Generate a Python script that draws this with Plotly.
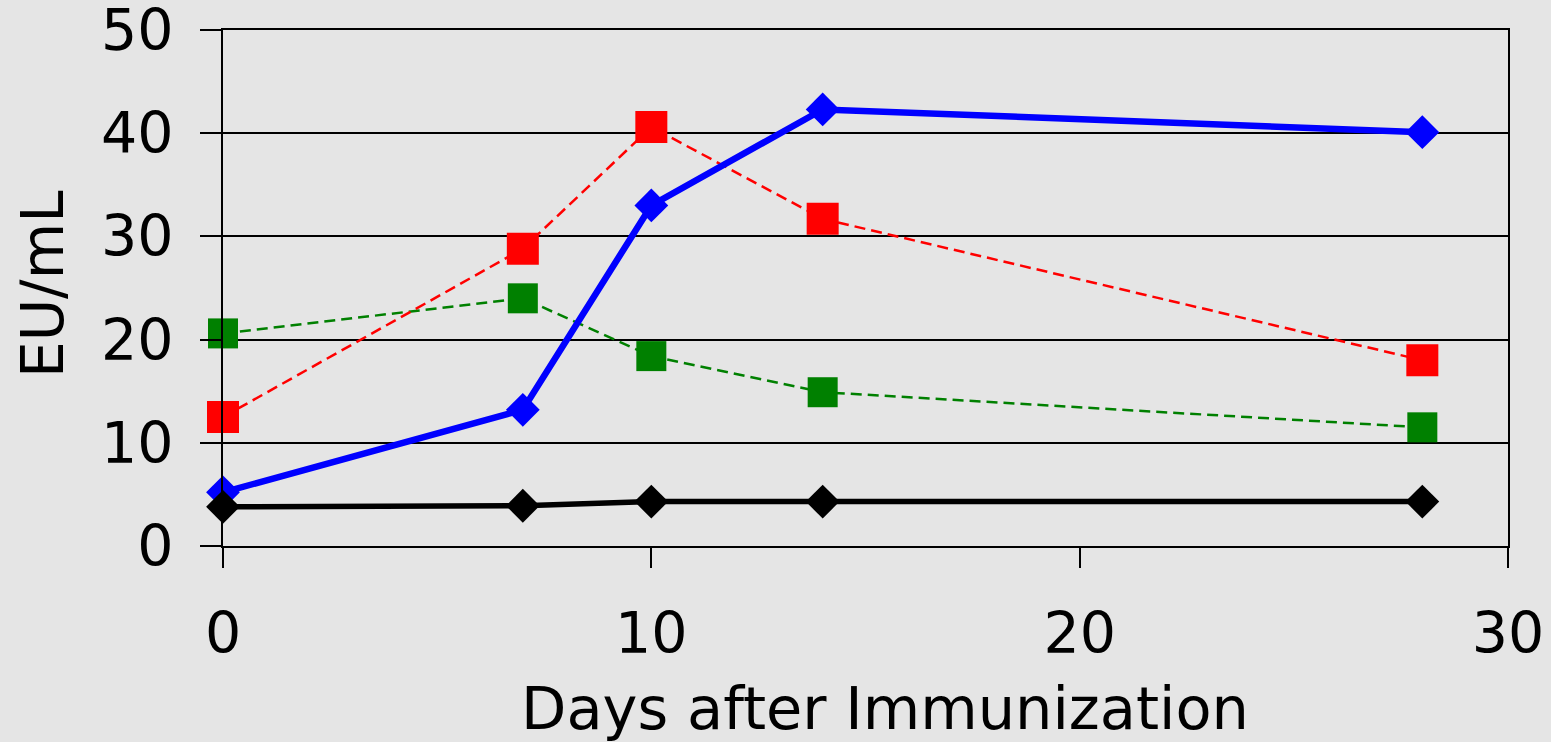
import plotly.graph_objects as go

days = [0, 7, 10, 14, 28]
blue_vals = [5.2, 13.2, 33.0, 42.3, 40.1]
red_vals = [12.5, 28.8, 40.6, 31.7, 18.0]
green_vals = [20.6, 24.0, 18.4, 14.9, 11.5]
black_vals = [3.8, 3.9, 4.3, 4.3, 4.3]

x_ticks = [0, 10, 20, 30]
y_ticks = [0, 10, 20, 30, 40, 50]
x_title = "Days after Immunization"
y_title = "EU/mL"

FONT = "DejaVu Sans"
BG = "#e5e5e5"

fig = go.Figure()

fig.add_trace(go.Scatter(
    x=days, y=green_vals, mode="lines+markers", cliponaxis=False,
    line=dict(color="#008000", width=2.5, dash="11px,6px"),
    marker=dict(symbol="square", size=30, color="#008000"),
))
fig.add_trace(go.Scatter(
    x=days, y=red_vals, mode="lines+markers", cliponaxis=False,
    line=dict(color="#ff0000", width=2.5, dash="11px,6px"),
    marker=dict(symbol="square", size=32, color="#ff0000"),
))
fig.add_trace(go.Scatter(
    x=days, y=blue_vals, mode="lines+markers", cliponaxis=False,
    line=dict(color="#0000ff", width=6.5),
    marker=dict(symbol="diamond", size=26, color="#0000ff"),
))
fig.add_trace(go.Scatter(
    x=days, y=black_vals, mode="lines+markers", cliponaxis=False,
    line=dict(color="#000000", width=5.5),
    marker=dict(symbol="diamond", size=26, color="#000000"),
))

fig.update_layout(
    width=1551, height=742,
    margin=dict(l=223, r=43, t=30, b=196),
    paper_bgcolor=BG, plot_bgcolor=BG,
    showlegend=False,
    font=dict(family=FONT, size=57, color="black"),
    annotations=[
        dict(text=x_title, xref="paper", yref="paper",
             x=(885 - 223) / 1285, y=(546 - 708) / 516,
             xanchor="center", yanchor="middle", showarrow=False,
             font=dict(family=FONT, size=59, color="black")),
        dict(text=y_title, xref="paper", yref="paper",
             x=(43 - 223) / 1285, y=(546 - 285) / 516,
             xanchor="center", yanchor="middle", showarrow=False, textangle=-90,
             font=dict(family=FONT, size=58, color="black")),
    ],
)

fig.update_xaxes(
    range=[0, 30], tickvals=x_ticks, ticktext=[str(v) for v in x_ticks],
    showgrid=False, zeroline=False, automargin=False,
    showline=True, linecolor="black", linewidth=2, mirror=True,
    ticks="outside", ticklen=20, tickwidth=2, tickcolor="black",
    ticklabelstandoff=17, ticklabeloverflow="allow",
    tickfont=dict(family=FONT, size=57, color="black"),
)
fig.update_yaxes(
    range=[0, 50], tickvals=y_ticks, ticktext=[str(v) for v in y_ticks],
    showgrid=True, gridcolor="black", gridwidth=2, zeroline=False, automargin=False,
    showline=True, linecolor="black", linewidth=2, mirror=True,
    ticks="outside", ticklen=21, tickwidth=2, tickcolor="black",
    ticklabelstandoff=15, ticklabeloverflow="allow",
    tickfont=dict(family=FONT, size=57, color="black"),
)

fig.write_html(
    "out.html",
    config={"displayModeBar": False},
    post_script="document.body.style.margin='0';document.body.style.overflow='hidden';",
)
